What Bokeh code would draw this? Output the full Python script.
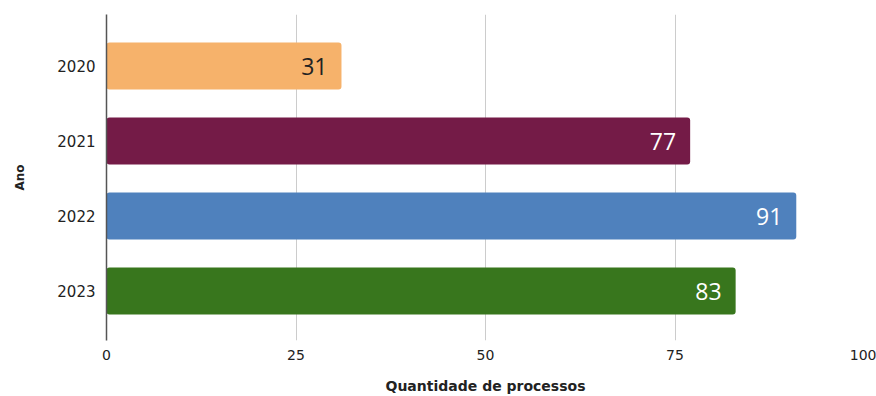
from bokeh.plotting import figure
from bokeh.models import Range1d, FixedTicker, ColumnDataSource
from bokeh.core.properties import value
from bokeh.embed import file_html
from bokeh.resources import INLINE

years = ["2020", "2021", "2022", "2023"]
counts = [31, 77, 91, 83]
colors = ["#f6b26b", "#741b47", "#4f81bd", "#38761d"]
label_colors = ["#222222", "#ffffff", "#ffffff", "#ffffff"]
x_ticks = [0, 25, 50, 75, 100]

pos = list(range(len(years)))
src = ColumnDataSource(dict(y=pos, x=counts, c=colors, lc=label_colors,
                            t=[str(v) for v in counts]))

p = figure(width=876, height=396, output_backend="svg", toolbar_location=None,
           x_range=Range1d(0, 100), y_range=Range1d(3.66, -0.687),
           min_border_left=106, min_border_right=12, min_border_top=14, min_border_bottom=56)
p.outline_line_color = None
p.background_fill_color = "white"
p.border_fill_color = "white"

p.hbar(y="y", right="x", left=0, height=0.627, fill_color="c", line_color=None,
       border_radius=3, source=src)
p.text(x="x", y="y", text="t", text_color="lc", text_align="right", text_baseline="middle",
       x_offset=-14, text_font=value("Open Sans"), text_font_size="23px", source=src)

p.xaxis.ticker = FixedTicker(ticks=x_ticks)
p.yaxis.ticker = FixedTicker(ticks=pos)
p.yaxis.major_label_overrides = {i: y for i, y in enumerate(years)}

p.xgrid.grid_line_color = "#cccccc"
p.xgrid.grid_line_width = 1
p.ygrid.grid_line_color = None

p.xaxis.axis_line_color = None
p.xaxis.major_tick_line_color = None
p.xaxis.minor_tick_line_color = None
p.xaxis.major_label_standoff = 3
p.xaxis.major_label_text_font = "DejaVu Sans"
p.xaxis.major_label_text_font_size = "14px"
p.xaxis.major_label_text_color = "#222222"
p.xaxis.axis_label = "Quantidade de processos"
p.xaxis.axis_label_text_font = "DejaVu Sans"
p.xaxis.axis_label_text_font_style = "bold"
p.xaxis.axis_label_text_font_size = "14px"
p.xaxis.axis_label_text_color = "#222222"
p.xaxis.axis_label_standoff = 15

p.yaxis.axis_line_color = "#555555"
p.yaxis.axis_line_width = 1.5
p.yaxis.major_tick_line_color = None
p.yaxis.minor_tick_line_color = None
p.yaxis.major_label_standoff = 5
p.yaxis.major_label_text_font = "DejaVu Sans"
p.yaxis.major_label_text_font_size = "15px"
p.yaxis.major_label_text_color = "#222222"
p.yaxis.axis_label = "Ano"
p.yaxis.axis_label_text_font = "DejaVu Sans"
p.yaxis.axis_label_text_font_style = "bold"
p.yaxis.axis_label_text_font_size = "12px"
p.yaxis.axis_label_text_color = "#222222"
p.yaxis.axis_label_standoff = 27

open("out.html", "w").write(file_html(p, INLINE))
